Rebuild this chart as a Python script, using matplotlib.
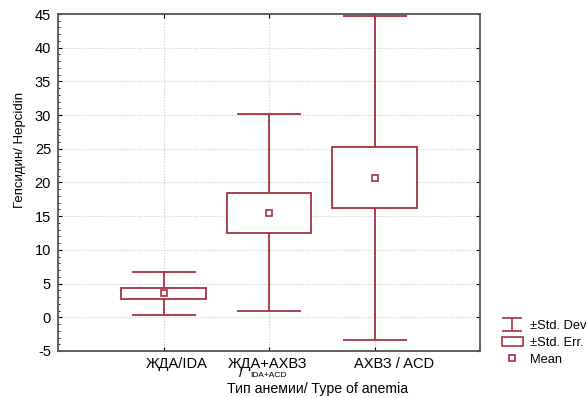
import matplotlib
matplotlib.use("Agg")
import numpy as np
import matplotlib.pyplot as plt
import matplotlib.transforms as mtransforms
from matplotlib.patches import Patch
from matplotlib.lines import Line2D
from matplotlib.ticker import MultipleLocator

categories = ["ЖДА/IDA", "ЖДА+АХВЗ", "АХВЗ / ACD"]
means = [3.55, 15.5, 20.7]
std_dev = [3.2, 14.6, 24.0]
std_err = [0.85, 2.95, 4.5]

color = "#a63241"
plt.rcParams['font.family'] = ['Liberation Sans', 'DejaVu Sans']
plt.rcParams['axes.unicode_minus'] = False

fig = plt.figure(figsize=(5.88, 3.98), dpi=100)
ax = fig.add_axes([58/588, 1-351/398, (480-58)/588, (351-14)/398])

x = list(range(1, len(categories) + 1))

ax.errorbar(x, means, yerr=std_dev, fmt='none', ecolor=color, elinewidth=1.3,
            capsize=23, capthick=1.3, zorder=2)
ax.bar(x, [2*s for s in std_err], bottom=[m - s for m, s in zip(means, std_err)],
       width=0.8, facecolor='white', edgecolor=color, linewidth=1.3, zorder=3)
ax.plot(x, means, linestyle='none', marker='s', markersize=4.5, markerfacecolor='white',
        markeredgecolor=color, markeredgewidth=1.2, zorder=4)

# dummy errorbar used only for the legend symbol
eb_leg = ax.errorbar([np.nan], [np.nan], yerr=[1], fmt='none', ecolor=color,
                     elinewidth=1.2, capsize=7.5, capthick=1.2)

ax.set_xlim(0, 4)
ax.set_ylim(-5, 45)
ax.yaxis.set_major_locator(MultipleLocator(5))
ax.yaxis.set_minor_locator(MultipleLocator(1))
ax.set_xticks(x)
ax.set_xticklabels(categories, fontsize=10.5)
ax.tick_params(axis='y', labelsize=10.5, direction='in', length=3, right=True, pad=5)
ax.tick_params(axis='y', which='minor', direction='in', length=1.5, right=False)
ax.tick_params(axis='x', direction='in', length=3, top=True, pad=4.5)

# reference labels sit slightly right of their ticks
label_shift_px = [13, -1, 20]
for lab, dx in zip(ax.get_xticklabels(), label_shift_px):
    lab.set_transform(lab.get_transform() +
                      mtransforms.ScaledTranslation(dx/100, 0, fig.dpi_scale_trans))

ax.grid(True, which='major', linestyle=':', color='#c8c8c8', linewidth=0.8, zorder=0)
ax.set_axisbelow(True)
for sp in ax.spines.values():
    sp.set_color('#555555')
    sp.set_linewidth(1.3)

# sub-label under middle category
ax.text(x[1] - 0.26, -0.045, "/", transform=ax.get_xaxis_transform(), fontsize=11,
        ha='center', va='top')
ax.text(x[1] - 0.18, -0.062, "IDA+ACD", transform=ax.get_xaxis_transform(), fontsize=6,
        ha='left', va='top')

ax.set_ylabel("Гепсидин/ Hepcidin", fontsize=9.5)
ax.yaxis.set_label_coords(-0.077, 0.596)
ax.set_xlabel("Тип анемии/ Type of anemia", fontsize=10.2, va='top')
ax.xaxis.set_label_coords(0.614, -0.093)

handles = [eb_leg,
           Patch(facecolor='white', edgecolor=color, linewidth=1.2),
           Line2D([], [], linestyle='none', marker='s', markersize=4,
                  markerfacecolor='white', markeredgecolor=color, markeredgewidth=1.2)]
labels = ["±Std. Dev", "±Std. Err.", "Mean"]
fig.legend(handles, labels, loc='upper left', bbox_to_anchor=(502/588, 1-320/398),
           frameon=False, fontsize=9.3, handlelength=1.6, handleheight=0.75,
           handletextpad=0.6, labelspacing=0.35, borderaxespad=0, borderpad=0)

fig.savefig("out.png", dpi=100)
